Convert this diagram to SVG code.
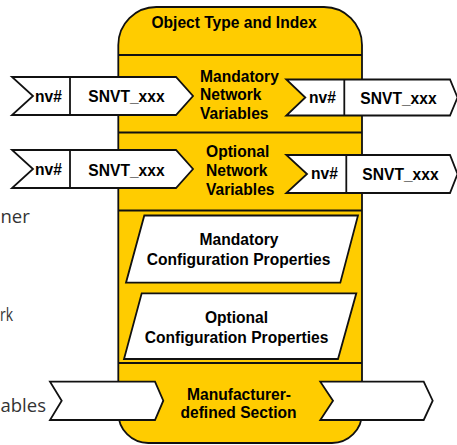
<svg xmlns="http://www.w3.org/2000/svg" width="457" height="445" viewBox="0 0 457 445">
<style>
.ln{fill:none;stroke:#111;stroke-width:1.8}
.yl{fill:#FFCC00;stroke:#111;stroke-width:1.8}
.wh{fill:#fff;stroke:#111;stroke-width:1.8;stroke-linejoin:miter}
.t{font-family:"Liberation Sans",Arial,sans-serif;font-weight:bold;font-size:15.6px;fill:#000}
.c{text-anchor:middle}
.side{font-family:"Open Sans","Liberation Sans",sans-serif;font-size:18.5px;fill:#333}
</style>
<rect width="457" height="445" fill="#fff"/>
<g id="side-labels">
<text class="side" x="0.5" y="223">ner</text>
<text class="side" x="0" y="321" textLength="13" lengthAdjust="spacingAndGlyphs">rk</text>
<text class="side" x="0.5" y="412">ables</text>
</g>
<g id="object">
<path class="yl" d="M118.3,45 A38,38 0 0 1 156.3,7 H324 A38,38 0 0 1 362,45 V413 A30,30 0 0 1 332,443 H148.3 A30,30 0 0 1 118.3,413 Z"/>
<text class="t c" x="234" y="28">Object Type and Index</text>
</g>
<g id="dividers">
<line class="ln" x1="118.3" y1="55" x2="362" y2="55"/>
<line class="ln" x1="118.3" y1="132.5" x2="362" y2="132.5"/>
<line class="ln" x1="118.3" y1="210.5" x2="362" y2="210.5"/>
<line class="ln" x1="118.3" y1="363" x2="362" y2="363"/>
</g>
<g id="mandatory-nv">
<text class="t" x="200" y="82">Mandatory</text>
<text class="t" x="200" y="100">Network</text>
<text class="t" x="200" y="118.5">Variables</text>
</g>
<g id="optional-nv">
<text class="t" x="206" y="157">Optional</text>
<text class="t" x="206" y="175.5">Network</text>
<text class="t" x="206" y="194.5">Variables</text>
</g>
<g id="mandatory-cp">
<polygon class="wh" points="144.3,215.5 358,215.5 340.3,282.7 126,282.7"/>
<text class="t c" x="239" y="245">Mandatory</text>
<text class="t c" x="238.5" y="264.5">Configuration Properties</text>
</g>
<g id="optional-cp">
<polygon class="wh" points="141.7,293.3 356.3,293.3 338,359 124,359"/>
<text class="t c" x="236.5" y="323">Optional</text>
<text class="t c" x="236.5" y="342.5">Configuration Properties</text>
</g>
<g id="manufacturer">
<text class="t c" x="239" y="400">Manufacturer-</text>
<text class="t c" x="238.5" y="418">defined Section</text>
</g>
<g id="connectors">
<g id="in-mandatory">
<polygon class="wh" points="12,77 176,77 193,96 176,115 12,115 33,96"/>
<line class="ln" x1="70" y1="77" x2="70" y2="115"/>
<text class="t c" x="48.5" y="101.5">nv#</text>
<text class="t c" x="126.5" y="102">SNVT_xxx</text>
</g>
<g id="in-optional">
<polygon class="wh" points="12,150 176,150 193,169 176,188 12,188 33,169"/>
<line class="ln" x1="70" y1="150" x2="70" y2="188"/>
<text class="t c" x="48.5" y="175">nv#</text>
<text class="t c" x="126.5" y="175.5">SNVT_xxx</text>
</g>
<g id="out-mandatory">
<polygon class="wh" points="286.3,79.5 450,79.5 457.5,97.5 450,115.5 286.3,115.5 305.3,97.5"/>
<line class="ln" x1="344.3" y1="79.5" x2="344.3" y2="115.5"/>
<text class="t c" x="322.5" y="103">nv#</text>
<text class="t c" x="398.5" y="103.5">SNVT_xxx</text>
</g>
<g id="out-optional">
<polygon class="wh" points="286.3,155 450,155 457.5,174 450,193 286.3,193 307,174"/>
<line class="ln" x1="346.3" y1="155" x2="346.3" y2="193"/>
<text class="t c" x="324.5" y="179">nv#</text>
<text class="t c" x="400.5" y="179.5">SNVT_xxx</text>
</g>
<g id="in-manufacturer">
<polygon class="wh" points="50,381.7 155,381.7 163.3,400.7 155,420 50,420 61.7,400.7"/>
</g>
<g id="out-manufacturer">
<polygon class="wh" points="320.3,381.7 423.7,381.7 432.7,400.7 423.7,420 320.3,420 333,400.7"/>
</g>
</g>
</svg>
